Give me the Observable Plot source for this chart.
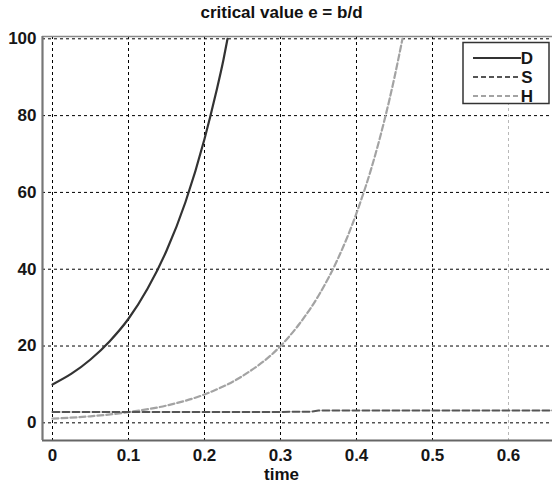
<!DOCTYPE html>
<html>
<head>
<meta charset="utf-8">
<script src="https://cdn.jsdelivr.net/npm/d3@7"></script>
<script src="https://cdn.jsdelivr.net/npm/@observablehq/plot@0.6"></script>
<style>
  html, body { margin: 0; padding: 0; background: #fff; }
  #chart { position: relative; width: 552px; height: 490px; overflow: hidden; }
  #title { position: absolute; left: 0; width: 563px; top: 3px; text-align: center;
           font: bold 17px "Liberation Sans", Arial, sans-serif; color: #111; }
  #xlabel { position: absolute; left: 0; width: 563px; top: 465px; text-align: center;
            font: bold 17px "Liberation Sans", Arial, sans-serif; color: #111; }
  #plot { position: absolute; left: 0; top: 0; }
</style>
</head>
<body>
<div id="chart">
  <div id="plot"></div>
  <div id="title">critical value e = b/d</div>
  <div id="xlabel">time</div>
</div>
<script>
// ---- data ----
const seriesNames = ["D", "S", "H"];

const timeD = [0, 0.025, 0.05, 0.075, 0.1, 0.125, 0.15, 0.175, 0.2, 0.215, 0.225, 0.2303];
const valueD = [10, 12.8, 16.5, 21.2, 27.1, 34.9, 44.8, 57.5, 73.9, 85.8, 94.6, 100];

const timeS = [0, 0.05, 0.1, 0.15, 0.2, 0.25, 0.3, 0.34, 0.35, 0.4, 0.5, 0.6, 0.7];
const valueS = [2.8, 2.8, 2.85, 2.85, 2.85, 2.85, 2.85, 2.9, 3.2, 3.2, 3.2, 3.2, 3.2];

const timeH = [0, 0.05, 0.1, 0.15, 0.2, 0.25, 0.3, 0.325, 0.35, 0.375, 0.4, 0.425, 0.45, 0.4605];
const valueH = [1.1, 1.7, 2.8, 4.5, 7.4, 12.2, 20.0, 25.8, 33.1, 42.5, 54.6, 70.0, 90.0, 100];

const xTicks = [0, 0.1, 0.2, 0.3, 0.4, 0.5, 0.6];
const yTicks = [0, 20, 40, 60, 80, 100];

// ---- build tables ----
const dD = timeD.map((t, i) => ({t, v: valueD[i]}));
const dS = timeS.map((t, i) => ({t, v: valueS[i]}));
const dH = timeH.map((t, i) => ({t, v: valueH[i]}));

const xDomain = [-0.01316, 0.6579];
const yDomain = [-4.6, 100.6];

const plot = Plot.plot({
  width: 552,
  height: 490,
  marginLeft: 42,
  marginRight: 0,
  marginTop: 36,
  marginBottom: 50,
  style: {fontFamily: "Liberation Sans, Arial, sans-serif", fontSize: "17px", fontWeight: "bold", color: "#161616", background: "#fff"},
  x: {domain: xDomain, ticks: xTicks, tickSize: 0, tickPadding: 8, tickFormat: d => String(d), label: null},
  y: {domain: yDomain, ticks: yTicks, tickSize: 0, tickPadding: 6, tickFormat: d => String(d), label: null},
  marks: [
    Plot.gridX(xTicks.filter(d => d !== 0.6), {stroke: "#000", strokeOpacity: 1, strokeWidth: 1, strokeDasharray: "3,3"}),
    Plot.gridX([0.6], {stroke: "#b8b8b8", strokeOpacity: 1, strokeWidth: 1, strokeDasharray: "3,3"}),
    Plot.gridY(yTicks, {stroke: "#000", strokeOpacity: 1, strokeWidth: 1, strokeDasharray: "3,3"}),
    Plot.line(dH, {x: "t", y: "v", stroke: "#a3a3a3", strokeWidth: 2.2, strokeDasharray: "6,3", curve: "monotone-x", clip: true}),
    Plot.line(dS, {x: "t", y: "v", stroke: "#555", strokeWidth: 2, strokeDasharray: "7,3", clip: true}),
    Plot.line(dD, {x: "t", y: "v", stroke: "#333", strokeWidth: 2.2, curve: "monotone-x", clip: true}),
    Plot.ruleY([yDomain[1]], {stroke: "#888", strokeWidth: 1.5}),
    Plot.ruleY([yDomain[0]], {stroke: "#666", strokeWidth: 2}),
    Plot.ruleX([xDomain[0]], {stroke: "#777", strokeWidth: 2.2}),
    Plot.axisX(xTicks, {tickSize: 0, tickPadding: 8, tickFormat: d => String(d), label: null}),
    Plot.axisY(yTicks, {tickSize: 0, tickPadding: 6, tickFormat: d => String(d), label: null})
  ]
});
document.getElementById("plot").appendChild(plot);

// ---- legend (drawn into the same svg) ----
const svg = d3.select(plot);
const lg = svg.append("g").attr("font-family", "Liberation Sans, Arial, sans-serif").attr("font-weight", "bold");
lg.append("rect").attr("x", 463).attr("y", 42.5).attr("width", 86).attr("height", 61)
  .attr("fill", "#fff").attr("stroke", "#333").attr("stroke-width", 1.5);
const legendStyles = [
  {stroke: "#333", dash: null},
  {stroke: "#555", dash: "5,3"},
  {stroke: "#a3a3a3", dash: "5,3"}
];
seriesNames.forEach((name, i) => {
  const y = 58 + i * 19;
  const s = legendStyles[i];
  const l = lg.append("line").attr("x1", 473).attr("x2", 521).attr("y1", y).attr("y2", y)
    .attr("stroke", s.stroke).attr("stroke-width", 2.2);
  if (s.dash) l.attr("stroke-dasharray", s.dash);
  lg.append("text").attr("x", 527).attr("y", y).attr("dy", "0.36em")
    .attr("font-size", 17).attr("fill", "#161616").text(name);
});
</script>
</body>
</html>
